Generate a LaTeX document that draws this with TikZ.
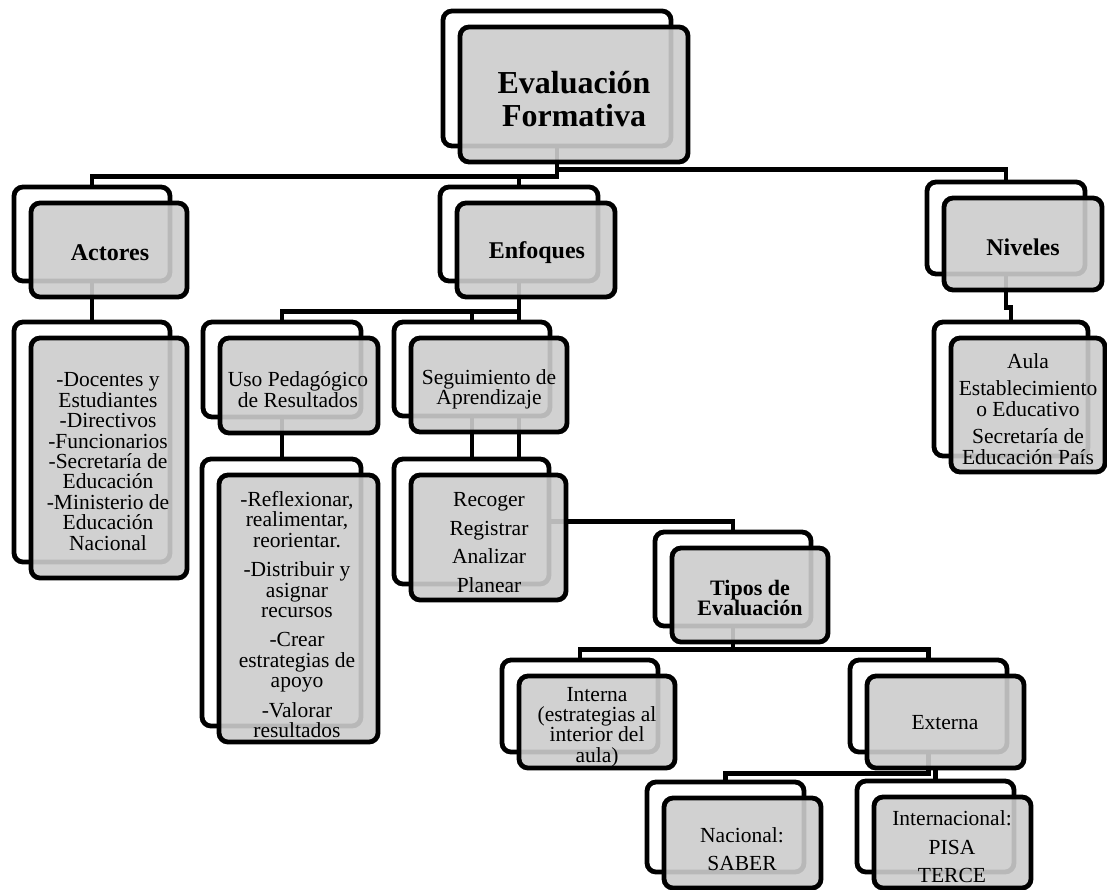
\documentclass[tikz,border=0pt]{standalone}
\usepackage{fontspec}
\setmainfont{Liberation Serif}
\usetikzlibrary{calc}
\pgfdeclarelayer{bg}
\pgfsetlayers{bg,main}
\tikzset{
  boxbase/.style={rectangle, rounded corners=9pt, line width=4.8pt, draw=black, inner sep=0pt},
  backbox/.style={boxbase, fill=white},
  frontbox/.style={boxbase, fill=black!20, fill opacity=0.9},
  conn/.style={line width=4.8pt, draw=black},
  lbl/.style={align=center, inner sep=0pt, text=black},
  bigtxt/.style={lbl, font=\fontsize{32}{33}\selectfont\bfseries},
  headtxt/.style={lbl, font=\fontsize{24}{25}\selectfont\bfseries},
  headtwo/.style={lbl, font=\fontsize{22}{20.5}\selectfont\bfseries},
  txt/.style={lbl, font=\fontsize{21.5}{20.4}\selectfont},
}
\newcommand\pairbox[5]{%
  \node[backbox, minimum width=#4pt, minimum height=#5pt] (#1B) at ({#2-17},{#3-16}) {};
  \node[frontbox, minimum width=#4pt, minimum height=#5pt] (#1) at (#2,#3) {};
}
\begin{document}
\begin{tikzpicture}[x=1pt,y=-1pt]
\useasboundingbox (0,0) rectangle (1107,890);

% boxes
\pairbox{eval}{574}{94.5}{228}{135}
\pairbox{act}{109}{250}{156}{94}
\pairbox{enf}{536}{250}{158}{94}
\pairbox{niv}{1023}{244}{158}{92}
\pairbox{actl}{109}{458}{156}{240}
\pairbox{uso}{299}{385.5}{158}{95}
\pairbox{seg}{489}{385}{156}{94}
\pairbox{nivl}{1028}{405}{154}{134}
\pairbox{usol}{298.5}{608.5}{159}{267}
\pairbox{rec}{488.5}{537.5}{155}{125}
\pairbox{tip}{750}{595}{156}{94}
\pairbox{int}{597}{722}{156}{92}
\pairbox{ext}{945.5}{722}{157}{92}
\pairbox{nac}{742.5}{843}{157}{90}
\pairbox{intl}{952.5}{842.5}{157}{91}

% texts
\node[bigtxt] (evalT) at (574,99) {Evaluación\\Formativa};
\node[headtxt] (actT) at (110,253) {Actores};
\node[headtxt] (enfT) at (537,253) {Enfoques};
\node[headtxt] (nivT) at (1023,247) {Niveles};
\node[headtwo] (tipT) at (750,598) {Tipos de\\Evaluación};
\node[txt] (actlT) at (108,461.5) {-Docentes y\\Estudiantes\\-Directivos\\-Funcionarios\\-Secretaría de\\Educación\\-Ministerio de\\Educación\\Nacional};
\node[txt] (usoT) at (298,389.5) {Uso Pedagógico\\de Resultados};
\node[txt] (segT) at (489,389.5) {Seguimiento de\\Aprendizaje};
\node[txt] (usolT) at (297,614.5) {-Reflexionar,\\realimentar,\\reorientar.\\[9pt]-Distribuir y\\asignar\\recursos\\[9pt]-Crear\\estrategias de\\apoyo\\[9pt]-Valorar\\resultados};
\node[txt] (recT) at (489,542.5) {Recoger\\[8pt]Registrar\\[8pt]Analizar\\[8pt]Planear};
\node[txt] (nivlT) at (1028,409) {Aula\\[7pt]Establecimiento\\o Educativo\\[7pt]Secretaría de\\Educación País};
\node[txt] (intT) at (597,727) {Interna\\(estrategias al\\interior del\\aula)};
\node[txt] (extT) at (945,723) {Externa};
\node[txt] (nacT) at (742,849) {Nacional:\\[7.5pt]SABER};
\node[txt] (intlT) at (952,847) {Internacional:\\[8pt]PISA\\[8pt]TERCE};

% connectors
\begin{pgfonlayer}{bg}
\coordinate (barA) at ($(evalB.south)+(0,28)$);
\coordinate (barB) at ($(evalB.south)+(0,21)$);
\draw[conn] (evalB.south) -- (barA) -| (actB.north);
\draw[conn] (barB) -| (nivB.north);
\draw[conn] (barA -| enfB.north) -- (enfB.north);
\coordinate (barC) at ($(enfB.south)+(0,28)$);
\draw[conn] (enfB.south) -- (enfB.south |- recB.north);
\draw[conn] (barC) -| (usoB.north);
\draw[conn] (barC -| segB.north) -- (segB.north);
\draw[conn] (actB.south) -- (actlB.north);
\draw[conn] (usoB.south) -- (usoB.south |- usolB.north);
\draw[conn] (segB.south) -- (segB.south |- recB.north);
\draw[conn] (recB.center) -| (tipB.north);
\coordinate (barD) at ($(tipB.south)+(0,21)$);
\draw[conn] (tipB.south) -- (barD) -| (intB.north);
\draw[conn] (barD) -| (extB.north);
\coordinate (barE) at ($(extB.south)+(0,19)$);
\draw[conn] (extB.south) -- (barE) -| (nacB.north);
\draw[conn] (intlB.north |- ext.south) -- (intlB.north);
\coordinate (jog) at ($(nivB.south)+(0,31)$);
\draw[conn] (nivB.south) -- (jog) -| (nivlB.north);
\end{pgfonlayer}
\end{tikzpicture}
\end{document}
